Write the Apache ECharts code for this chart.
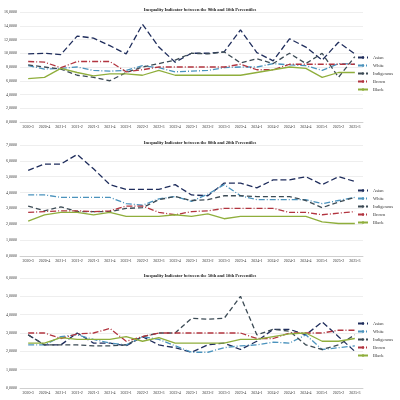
<!DOCTYPE html>
<html>
<head>
<meta charset="utf-8">
<script src="https://cdn.jsdelivr.net/npm/echarts@6/dist/echarts.min.js"></script>
<style>
  html, body { margin: 0; padding: 0; background: #fff; }
  #chart { width: 400px; height: 400px; }
</style>
</head>
<body>
<div id="chart"></div>
<script>
// quarters on the x axis
const quarters = ['2020-3', '2020-4', '2021-1', '2021-2', '2021-3', '2021-4', '2022-1', '2022-2', '2022-3', '2022-4',
  '2023-1', '2023-2', '2023-3', '2023-4', '2024-1', '2024-2', '2024-3', '2024-4', '2025-1', '2025-2', '2025-3']

const groups = ['Asian', 'White', 'Indigenous', 'Brown', 'Black']

const titles = [
  'Inequality Indicator between the 90th and 10th Percentiles',
  'Inequality Indicator between the 80th and 20th Percentiles',
  'Inequality Indicator between the 50th and 10th Percentiles'
]

// 90/10
const p9010Asian = [9.9, 10.0, 9.8, 12.5, 12.2, 11.1, 9.9, 14.2, 10.9, 8.7, 10.0, 10.0, 10.2, 13.4, 10.1, 8.9, 12.1, 10.9, 9.0, 11.6, 9.9]
const p9010White = [8.2, 7.7, 7.8, 8.0, 7.5, 7.4, 7.5, 8.2, 7.9, 7.3, 7.4, 7.5, 7.9, 8.0, 8.0, 8.5, 8.3, 8.2, 7.5, 8.5, 8.4]
const p9010Indigenous = [8.3, 8.0, 7.7, 6.8, 6.5, 6.0, 7.2, 8.0, 8.5, 9.0, 10.0, 9.9, 10.2, 8.6, 9.2, 8.5, 10.0, 8.5, 10.0, 6.5, 9.5]
const p9010Brown = [8.8, 8.7, 7.9, 8.8, 8.8, 8.8, 7.3, 7.6, 8.0, 8.0, 8.0, 8.0, 8.0, 8.4, 7.6, 7.6, 8.4, 8.4, 8.4, 8.4, 8.4]
const p9010Black = [6.3, 6.5, 7.8, 7.2, 6.7, 7.0, 7.0, 6.8, 7.5, 6.8, 6.8, 6.8, 6.8, 6.8, 7.2, 7.6, 8.0, 7.8, 6.5, 7.2, 7.2]

// 80/20
const p8020Asian = [5.4, 5.8, 5.8, 6.4, 5.5, 4.5, 4.2, 4.2, 4.2, 4.5, 3.85, 3.8, 4.6, 4.6, 4.3, 4.8, 4.8, 5.0, 4.5, 5.0, 4.7]
const p8020White = [3.85, 3.85, 3.7, 3.7, 3.7, 3.7, 3.3, 3.2, 3.6, 3.75, 3.45, 3.9, 4.5, 3.8, 3.55, 3.55, 3.55, 3.55, 3.3, 3.5, 3.7]
const p8020Indigenous = [3.15, 2.85, 3.1, 2.8, 2.8, 2.8, 3.0, 3.05, 3.55, 3.75, 3.5, 3.55, 3.8, 3.8, 3.75, 3.75, 3.75, 3.5, 3.05, 3.4, 3.7]
const p8020Brown = [2.75, 2.8, 2.85, 2.85, 2.8, 2.85, 3.15, 3.15, 2.75, 2.6, 2.8, 2.85, 3.0, 3.0, 3.0, 3.0, 2.75, 2.75, 2.6, 2.7, 2.8]
const p8020Black = [2.2, 2.6, 2.75, 2.75, 2.6, 2.75, 2.5, 2.5, 2.5, 2.6, 2.5, 2.65, 2.35, 2.5, 2.5, 2.5, 2.5, 2.5, 2.15, 2.05, 2.05]

// 50/10
const p5010Asian = [2.9, 2.35, 2.35, 3.0, 2.45, 2.45, 2.3, 2.8, 2.35, 2.2, 1.95, 2.35, 2.45, 2.1, 2.55, 3.2, 3.2, 2.9, 3.6, 2.8, 2.0]
const p5010White = [2.35, 2.35, 2.8, 2.9, 2.65, 2.45, 2.35, 2.8, 2.65, 2.3, 1.95, 1.95, 2.2, 2.3, 2.35, 2.5, 2.45, 2.9, 2.1, 2.2, 2.3]
const p5010Indigenous = [2.9, 2.35, 2.35, 2.35, 2.3, 2.3, 2.35, 2.8, 3.0, 3.0, 3.8, 3.75, 3.8, 5.0, 2.9, 3.2, 3.1, 2.35, 2.1, 2.35, 2.9]
const p5010Brown = [3.0, 3.0, 2.7, 2.95, 3.0, 3.25, 2.55, 2.8, 3.0, 3.0, 3.0, 3.0, 3.0, 3.0, 2.7, 2.7, 3.0, 3.0, 3.0, 3.15, 3.15]
const p5010Black = [2.45, 2.45, 2.75, 2.65, 2.65, 2.65, 2.8, 2.55, 2.75, 2.45, 2.45, 2.45, 2.45, 2.65, 2.65, 2.8, 2.95, 3.0, 2.55, 2.55, 2.7]

const panels = [
  { data: [p9010Asian, p9010White, p9010Indigenous, p9010Brown, p9010Black], max: 16, interval: 2, top: 12, height: 110 },
  { data: [p8020Asian, p8020White, p8020Indigenous, p8020Brown, p8020Black], max: 7, interval: 1, top: 145, height: 111 },
  { data: [p5010Asian, p5010White, p5010Indigenous, p5010Brown, p5010Black], max: 6, interval: 1, top: 278, height: 110 }
]

const styles = [
  { color: '#1f2d5c', type: [6, 3], width: 1.3 },
  { color: '#4b93bd', type: [6, 2, 1, 2], width: 1.3 },
  { color: '#3c4b55', type: [5, 3], width: 1.3 },
  { color: '#b2343f', type: [6, 2, 1, 2], width: 1.3 },
  { color: '#8fae3c', type: 'solid', width: 1.3 }
]

const font = 'Liberation Serif'
const fmt = v => v.toFixed(4).replace('.', ',')

const chart = echarts.init(document.getElementById('chart'), null, { renderer: 'canvas' })

const option = {
  animation: false,
  backgroundColor: '#fff',
  title: [], grid: [], xAxis: [], yAxis: [], legend: [], series: []
}

panels.forEach((p, i) => {
  option.title.push({
    text: titles[i], left: 'center', top: p.top - 10,
    textStyle: { fontFamily: font, fontSize: 4.5, fontWeight: 'bold', color: '#222' }
  })
  option.grid.push({ left: 20, right: 37, top: p.top, height: p.height })
  option.xAxis.push({
    type: 'category', gridIndex: i, data: quarters, boundaryGap: true,
    axisLine: { lineStyle: { color: '#bbb', width: 0.6 } }, axisTick: { show: false },
    axisLabel: { fontFamily: font, fontSize: 4, color: '#333', interval: 0, margin: 3 }
  })
  option.yAxis.push({
    type: 'value', gridIndex: i, min: 0, max: p.max, interval: p.interval,
    axisLine: { show: false }, axisTick: { show: false },
    splitLine: { lineStyle: { color: '#e2e2e2', width: 0.6 } },
    axisLabel: { fontFamily: font, fontSize: 4, color: '#333', formatter: fmt, margin: 3 }
  })
  option.legend.push({
    orient: 'vertical', right: 2, top: p.top + 38, itemWidth: 10, itemHeight: 3, itemGap: 3,
    textStyle: { fontFamily: font, fontSize: 4.5, color: '#333' },
    data: groups.map(g => g + ' ' + (i + 1)),
    formatter: n => n.slice(0, -2)
  })
  groups.forEach((g, k) => {
    option.series.push({
      name: g + ' ' + (i + 1), type: 'line', xAxisIndex: i, yAxisIndex: i,
      data: p.data[k], symbol: 'none', color: styles[k].color,
      lineStyle: { color: styles[k].color, type: styles[k].type, width: styles[k].width }
    })
  })
})

chart.setOption(option)
</script>
</body>
</html>
